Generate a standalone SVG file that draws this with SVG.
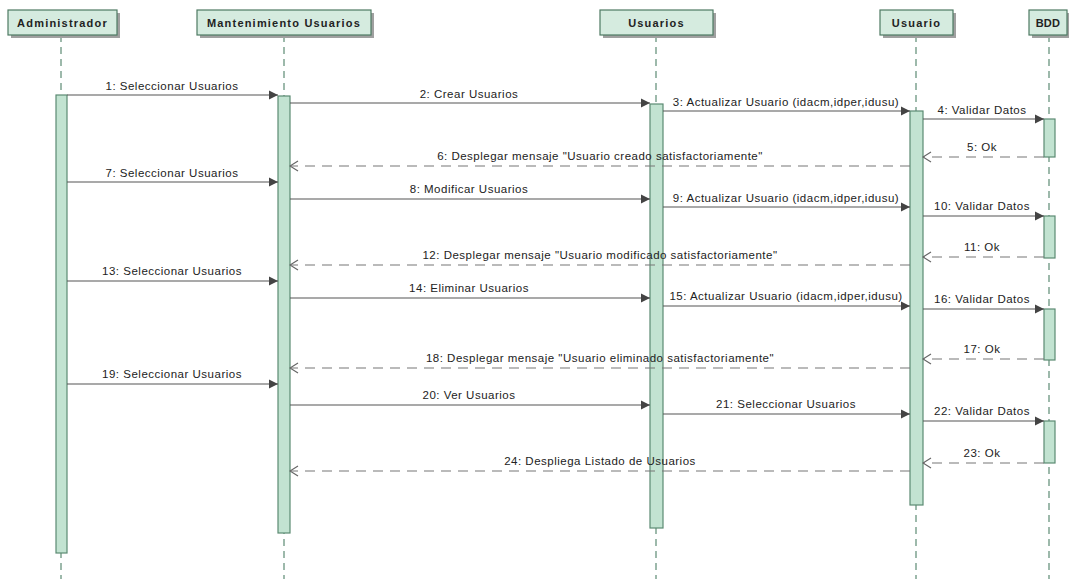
<svg xmlns="http://www.w3.org/2000/svg" width="1071" height="579" viewBox="0 0 1071 579">
<style>
.hdr{fill:#d5ebdf;stroke:#4e7a63;stroke-width:1.2}
.shd{fill:#a0a0a0}
.ht{font-family:"Liberation Sans",Arial,sans-serif;font-size:11px;font-weight:bold;fill:#222;letter-spacing:1.2px;text-anchor:middle}
.life{stroke:#5d8b74;stroke-width:1.2;stroke-dasharray:7 5;fill:none}
.act{fill:#c2e3d1;stroke:#5b8a72;stroke-width:1.2}
.sync{stroke:#555;stroke-width:1.2;fill:none;marker-end:url(#fa)}
.ret{stroke:#777;stroke-width:1.2;stroke-dasharray:10 7;fill:none;marker-end:url(#oa)}
.lbl{font-family:"Liberation Sans",Arial,sans-serif;font-size:11.5px;fill:#222;letter-spacing:0.5px;text-anchor:middle}
</style>
<defs>
<marker id="fa" markerUnits="userSpaceOnUse" markerWidth="10" markerHeight="10" refX="9" refY="5" orient="auto"><path d="M0,0.5 L9,5 L0,9.5 z" fill="#444"/></marker>
<marker id="oa" markerUnits="userSpaceOnUse" markerWidth="10" markerHeight="12" refX="9" refY="6" orient="auto"><path d="M1,1 L9,6 L1,11" fill="none" stroke="#666" stroke-width="1.2"/></marker>
</defs>
<rect width="1071" height="579" fill="#fff"/>

<g id="lifelines">
<line class="life" x1="61" y1="35" x2="61" y2="579"/>
<line class="life" x1="284" y1="35" x2="284" y2="579"/>
<line class="life" x1="656" y1="35" x2="656" y2="579"/>
<line class="life" x1="916" y1="35" x2="916" y2="579"/>
<line class="life" x1="1049" y1="35" x2="1049" y2="579"/>
</g>

<g id="node-administrador">
<rect class="shd" x="11" y="13" width="109" height="25"/>
<rect class="hdr" x="8" y="10" width="109" height="25"/>
<text class="ht" x="62.5" y="26.5">Administrador</text>
<rect class="act" x="56" y="95" width="11" height="458"/>
</g>
<g id="node-mantenimiento">
<rect class="shd" x="200" y="13" width="174" height="25"/>
<rect class="hdr" x="197" y="10" width="174" height="25"/>
<text class="ht" x="284" y="26.5">Mantenimiento Usuarios</text>
<rect class="act" x="278" y="96" width="12" height="437"/>
</g>
<g id="node-usuarios">
<rect class="shd" x="603" y="13" width="113" height="25"/>
<rect class="hdr" x="600" y="10" width="113" height="25"/>
<text class="ht" x="656.5" y="26.5">Usuarios</text>
<rect class="act" x="650" y="104" width="13" height="424"/>
</g>
<g id="node-usuario">
<rect class="shd" x="883" y="13" width="73" height="25"/>
<rect class="hdr" x="880" y="10" width="73" height="25"/>
<text class="ht" x="916.5" y="26.5">Usuario</text>
<rect class="act" x="910" y="111" width="13" height="394"/>
</g>
<g id="node-bdd">
<rect class="shd" x="1032" y="13" width="37" height="25"/>
<rect class="hdr" x="1029" y="10" width="38" height="25"/>
<text class="ht" x="1048" y="26.5" style="letter-spacing:0.3px">BDD</text>
<rect class="act" x="1044" y="119" width="11" height="38"/>
<rect class="act" x="1044" y="216" width="11" height="42"/>
<rect class="act" x="1044" y="309" width="11" height="51"/>
<rect class="act" x="1044" y="421" width="11" height="42"/>
</g>

<g id="connectors">
<line class="sync" x1="67" y1="95" x2="278" y2="95"/>
<line class="sync" x1="290" y1="103" x2="650" y2="103"/>
<line class="sync" x1="663" y1="111" x2="910" y2="111"/>
<line class="sync" x1="923" y1="119" x2="1044" y2="119"/>
<line class="ret" x1="1044" y1="157" x2="923" y2="157"/>
<line class="ret" x1="910" y1="166" x2="290" y2="166"/>
<line class="sync" x1="67" y1="182" x2="278" y2="182"/>
<line class="sync" x1="290" y1="199" x2="650" y2="199"/>
<line class="sync" x1="663" y1="207" x2="910" y2="207"/>
<line class="sync" x1="923" y1="216" x2="1044" y2="216"/>
<line class="ret" x1="1044" y1="257" x2="923" y2="257"/>
<line class="ret" x1="910" y1="265" x2="290" y2="265"/>
<line class="sync" x1="67" y1="281" x2="278" y2="281"/>
<line class="sync" x1="290" y1="298" x2="650" y2="298"/>
<line class="sync" x1="663" y1="306" x2="910" y2="306"/>
<line class="sync" x1="923" y1="309" x2="1044" y2="309"/>
<line class="ret" x1="1044" y1="359" x2="923" y2="359"/>
<line class="ret" x1="910" y1="368" x2="290" y2="368"/>
<line class="sync" x1="67" y1="384" x2="278" y2="384"/>
<line class="sync" x1="290" y1="405" x2="650" y2="405"/>
<line class="sync" x1="663" y1="414" x2="910" y2="414"/>
<line class="sync" x1="923" y1="421" x2="1044" y2="421"/>
<line class="ret" x1="1044" y1="463" x2="923" y2="463"/>
<line class="ret" x1="910" y1="471" x2="290" y2="471"/>

<text class="lbl" x="172" y="90">1: Seleccionar Usuarios</text>
<text class="lbl" x="469" y="98">2: Crear Usuarios</text>
<text class="lbl" x="786" y="106">3: Actualizar Usuario (idacm,idper,idusu)</text>
<text class="lbl" x="982" y="114">4: Validar Datos</text>
<text class="lbl" x="982" y="151">5: Ok</text>
<text class="lbl" x="600" y="160">6: Desplegar mensaje "Usuario creado satisfactoriamente"</text>
<text class="lbl" x="172" y="177">7: Seleccionar Usuarios</text>
<text class="lbl" x="469" y="193">8: Modificar Usuarios</text>
<text class="lbl" x="786" y="202">9: Actualizar Usuario (idacm,idper,idusu)</text>
<text class="lbl" x="982" y="210">10: Validar Datos</text>
<text class="lbl" x="982" y="251">11: Ok</text>
<text class="lbl" x="600" y="259">12: Desplegar mensaje "Usuario modificado satisfactoriamente"</text>
<text class="lbl" x="172" y="275">13: Seleccionar Usuarios</text>
<text class="lbl" x="469" y="292">14: Eliminar Usuarios</text>
<text class="lbl" x="786" y="300">15: Actualizar Usuario (idacm,idper,idusu)</text>
<text class="lbl" x="982" y="303">16: Validar Datos</text>
<text class="lbl" x="982" y="353">17: Ok</text>
<text class="lbl" x="600" y="362">18: Desplegar mensaje "Usuario eliminado satisfactoriamente"</text>
<text class="lbl" x="172" y="378">19: Seleccionar Usuarios</text>
<text class="lbl" x="469" y="399">20: Ver Usuarios</text>
<text class="lbl" x="786" y="408">21: Seleccionar Usuarios</text>
<text class="lbl" x="982" y="415">22: Validar Datos</text>
<text class="lbl" x="982" y="457">23: Ok</text>
<text class="lbl" x="600" y="465">24: Despliega Listado de Usuarios</text>
</g>
</svg>
